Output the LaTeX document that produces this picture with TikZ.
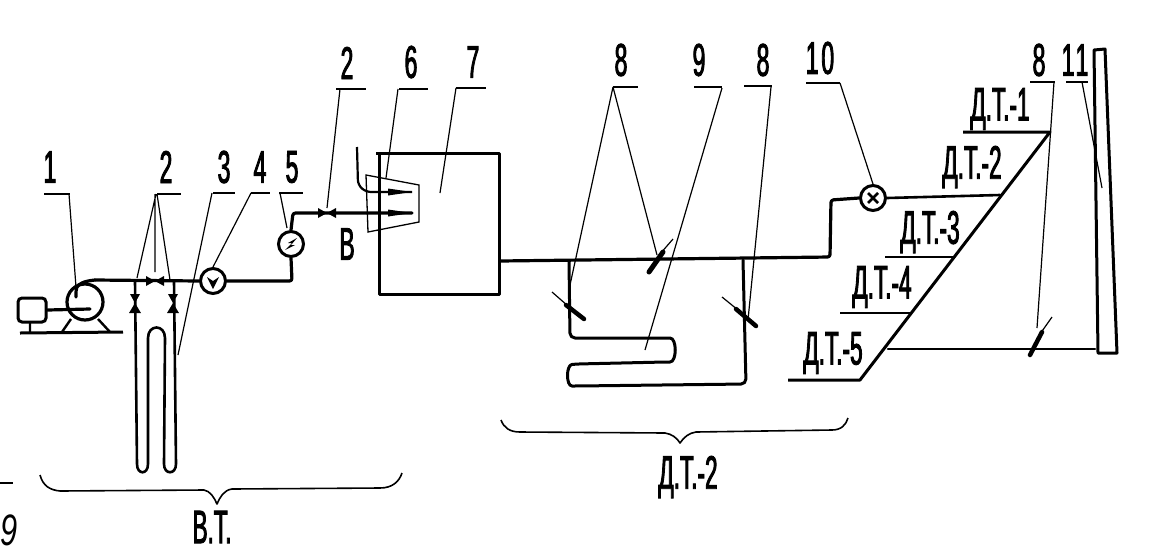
\documentclass[tikz,border=0pt]{standalone}
\usepackage{fontspec}
\newfontfamily\hand[FakeStretch=0.5,FakeBold=1.8,LetterSpace=6]{Liberation Sans}
\newfontfamily\handdt[FakeStretch=0.48,FakeBold=1.8]{Liberation Sans}
\newfontfamily\handit[FakeStretch=0.7]{Liberation Sans Italic}
\tikzset{
  pipe/.style={line width=3.2pt,line join=round,line cap=round,rounded corners=2.5pt},
  thin leader/.style={line width=1.2pt},
  shelf/.style={line width=2.8pt},
  gauge/.style={circle,draw,line width=3pt,minimum size=25pt,inner sep=0pt,fill=white},
  num/.style={font=\hand\fontsize{46}{46}\selectfont,inner sep=0pt},
  dt/.style={font=\handdt\fontsize{47}{47}\selectfont,inner sep=0pt},
  tick/.style={line width=1.2pt},
  hvalve/.pic={\fill (-9,-5)--(0,0)--(-9,5)--cycle (9,-5)--(0,0)--(9,5)--cycle;},
  vvalve/.pic={\fill (-5,-9)--(0,0)--(5,-9)--cycle (-6,10)--(0,0)--(6,10)--cycle;},
  flow/.pic={\fill (-24,-3.5)--(0,0)--(-24,3.5)--cycle;}
}
\begin{document}
\begin{tikzpicture}[x=1pt,y=-1pt]
\useasboundingbox (0,0) rectangle (1152,558);
% coordinates
\coordinate (pumpout) at (95,280);
\coordinate (j1) at (135,281);
\coordinate (j2) at (174,281);
\coordinate (c5) at (292,281);
\coordinate (v2) at (327,213);
\coordinate (top5) at (293,213);
% gauges and pump
\node[gauge] (g4) at (213,281) {};
\node[gauge] (g5) at (291,244) {};
\node[gauge] (g10) at (873,198) {};
\node[circle,draw,line width=3.2pt,minimum size=36pt,inner sep=0pt] (pump) at (85,302) {};
\node[draw,line width=3pt,rounded corners=4pt,minimum width=28pt,minimum height=24pt,inner sep=0pt] (motor) at (32,310) {};
% pump group
\draw[pipe] (motor.east) -- (90,309);
\draw[line width=3pt] (20,333) -- (123,332);
\draw[line width=2.4pt] (62,332) -- (71,319) (110,332) -- (98,319) (30,322) -- (30,332);
\draw[pipe] (76,297) -- (76,290) .. controls (78,284) and (84,281) .. (pumpout);
\draw[pipe] (pumpout) -- (g4.west);
\draw[pipe] (g4.east) -- (c5) -- (g5.south);
\draw[pipe] (g5.north) -- (top5) -- (v2) -- (412,213);
% U tubes
\draw[line width=2.6pt,line join=round] (j1) -- (137,464) .. controls (137,475) and (148,475) .. (148,464)
  -- (148,338) .. controls (148,324) and (165,324) .. (165,338)
  -- (164,464) .. controls (164,475) and (176,475) .. (176,464) -- (j2);
\pic at (155,281) {hvalve};
\pic at (135,303) {vvalve};
\pic at (173,303) {vvalve};
\pic at (v2) {hvalve};
% gauge marks
\fill (207,277)--(213,281)--(219,277)--(213,289)--cycle;
\fill (285,250)--(292,243)--(288,243)--(297,238)--(291,245)--(295,245)--cycle;
\draw[line width=2.6pt] (868,203)--(878,193) (868,193)--(878,203);
% box 7 and burner
\draw[line width=3pt,line join=round] (376,153) -- (499,153) -- (499,294) -- (379,294) -- (379,153);
\draw[line width=1.3pt] (366,175) -- (419,185) -- (419,222) -- (368,232) -- cycle;
\draw[line width=2.2pt,rounded corners=5pt] (357,147) -- (358,185) -- (366,192) -- (412,192);
\pic at (412,192) {flow};
\pic at (412,213) {flow};
% main line
\draw[pipe] (500,261) -- (830,257) -- (831,200) -- (g10.west);
\draw[pipe,line width=2.6pt] (g10.east) -- (1000,195);
% coil
\draw[pipe,line width=3pt,rounded corners=5pt] (569,261) -- (570,338) -- (665,338)
  .. controls (677,338) and (677,362) .. (665,362) -- (577,364)
  .. controls (566,365) and (566,386) .. (577,386) -- (746,384) -- (743,260);
% ticks on pipes
\draw[tick] (552,292) -- (568,306);
\draw[line width=4.5pt,line cap=round] (566,305) -- (584,319);
\draw[tick] (722,297) -- (738,310);
\draw[line width=4.5pt,line cap=round] (736,309) -- (756,326);
\draw[tick] (673,239) -- (660,254);
\draw[line width=5pt,line cap=round] (663,252) -- (649,272);
\draw[tick] (1052,317) -- (1040,334);
\draw[line width=4.5pt,line cap=round] (1042,332) -- (1030,355);
% diagonal header
\draw[line width=3pt,line join=round] (963,132) -- (1050,132) -- (860,380) -- (788,380);
\draw[shelf] (885,257) -- (955,257);
\draw[shelf] (840,313) -- (911,313);
\draw[pipe,line width=2.6pt] (888,349) -- (1095,349);
% stack 11
\draw[line width=3pt,line join=round] (1094,50) -- (1105,49) -- (1117,353) -- (1098,353) -- cycle;
% leaders
\draw[line width=2.4pt] (44,194) -- (70,194);
\draw[thin leader] (69,194) -- (76,287);
\draw[line width=2.4pt] (157,194) -- (181,194);
\draw[thin leader] (156,194) -- (137,278) (155,194) -- (155,272) (157,194) -- (170,280);
\draw[line width=2.4pt] (213,193) -- (235,193);
\draw[thin leader] (212,193) -- (178,355);
\draw[line width=2.4pt] (251,193) -- (270,193);
\draw[thin leader] (251,193) -- (g4.north);
\draw[line width=2.4pt] (279,193) -- (303,193);
\draw[thin leader] (280,193) -- (287,228);
\draw[line width=2.4pt] (336,89) -- (366,89);
\draw[thin leader] (340,89) -- (327,208);
\draw[line width=2.4pt] (399,89) -- (428,89);
\draw[thin leader] (398,89) -- (386,178);
\draw[line width=2.4pt] (456,88) -- (486,88);
\draw[thin leader] (456,88) -- (440,193);
\draw[line width=2.4pt] (613,87) -- (638,87);
\draw[thin leader] (613,87) -- (570,285) (613,87) -- (657,255);
\draw[line width=2.4pt] (694,87) -- (722,87);
\draw[thin leader] (722,88) -- (645,350);
\draw[line width=2.4pt] (744,86) -- (772,86);
\draw[thin leader] (771,87) -- (748,320);
\draw[line width=2.4pt] (806,83) -- (840,83);
\draw[thin leader] (840,83) -- (g10.north);
\draw[line width=2.4pt] (1030,82) -- (1055,82);
\draw[thin leader] (1054,82) -- (1037,328);
\draw[line width=2.4pt] (1066,82) -- (1088,82);
\draw[thin leader] (1082,82) -- (1102,188);
% braces
\draw[line width=1.6pt,line join=round] (40,475) .. controls (43,486) and (50,490) .. (60,491) -- (204,490) .. controls (210,491) and (214,497) .. (217,504) .. controls (220,497) and (224,490) .. (232,489) -- (380,488) .. controls (392,488) and (399,482) .. (402,473);
\draw[line width=1.6pt,line join=round] (501,420) .. controls (504,428) and (510,432) .. (520,432) -- (665,433) .. controls (672,434) and (677,438) .. (680,443) .. controls (684,437) and (689,433) .. (696,432) -- (832,430) .. controls (841,430) and (846,425) .. (848,418);
\draw[line width=1.5pt] (0,483) -- (13,483);
% labels
\node[num] (n1) at (50,167) {1};
\node[num] (n2a) at (166,167) {2};
\node[num] (n3) at (224,167) {3};
\node[num] (n4) at (260,167) {4};
\node[num] (n5) at (292,167) {5};
\node[num] (n2b) at (347,63) {2};
\node[num] (n6) at (411,62) {6};
\node[num] (n7) at (473,62) {7};
\node[num] (n8a) at (621,60) {8};
\node[num] (n9) at (699,60) {9};
\node[num] (n8b) at (763,60) {8};
\node[num] (n10) at (820,58) {10};
\node[num] (n8c) at (1039,60) {8};
\node[num] (n11) at (1075,60) {11};
\node[num] (nB) at (347,244) {В};
\node[dt] (d1) at (1000,109) {Д.Т.-1};
\node[dt] (d2) at (972,167) {Д.Т.-2};
\node[dt] (d3) at (930,232) {Д.Т.-3};
\node[dt] (d4) at (882,287) {Д.Т.-4};
\node[dt] (d5) at (833,353) {Д.Т.-5};
\node[dt] (d6) at (688,477) {Д.Т.-2};
\node[dt] (vt) at (212,527) {В.Т.};
\node[font=\handit\fontsize{44}{44}\selectfont,inner sep=0pt] (stray) at (9,530) {9};
\end{tikzpicture}
\end{document}
